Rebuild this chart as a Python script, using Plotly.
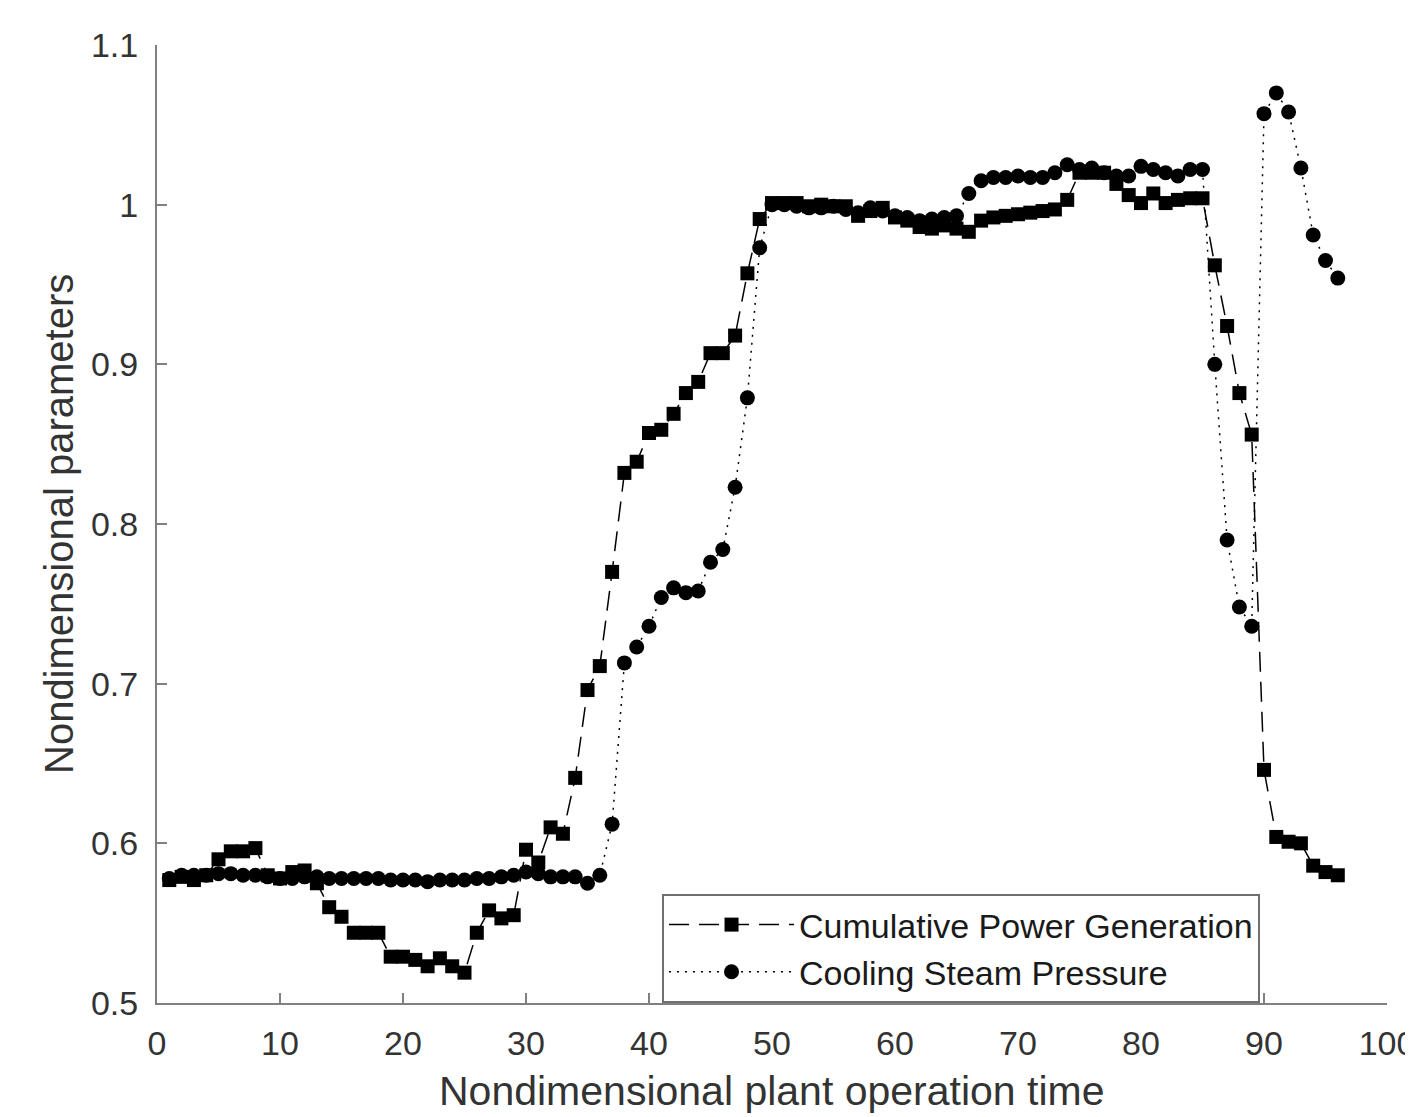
import plotly.graph_objects as go

time = list(range(1, 97))

power = [0.577, 0.579, 0.577, 0.580, 0.590, 0.595, 0.595, 0.597, 0.580, 0.578,
         0.582, 0.583, 0.575, 0.560, 0.554, 0.544, 0.544, 0.544, 0.529, 0.529,
         0.527, 0.523, 0.528, 0.523, 0.519, 0.544, 0.558, 0.553, 0.555, 0.596,
         0.588, 0.610, 0.606, 0.641, 0.696, 0.711, 0.770, 0.832, 0.839, 0.857,
         0.859, 0.869, 0.882, 0.889, 0.907, 0.907, 0.918, 0.957, 0.991, 1.001,
         1.001, 1.001, 0.999, 1.000, 0.999, 0.999, 0.993, 0.996, 0.998, 0.992,
         0.990, 0.986, 0.985, 0.987, 0.985, 0.983, 0.990, 0.992, 0.993, 0.994,
         0.995, 0.996, 0.997, 1.003, 1.020, 1.020, 1.020, 1.013, 1.006, 1.001,
         1.007, 1.001, 1.003, 1.004, 1.004, 0.962, 0.924, 0.882, 0.856, 0.646,
         0.604, 0.601, 0.600, 0.586, 0.582, 0.580]

pressure = [0.578, 0.580, 0.580, 0.580, 0.581, 0.581, 0.580, 0.580, 0.579, 0.578,
            0.578, 0.579, 0.579, 0.578, 0.578, 0.578, 0.578, 0.578, 0.577, 0.577,
            0.577, 0.576, 0.577, 0.577, 0.577, 0.578, 0.578, 0.579, 0.580, 0.582,
            0.581, 0.579, 0.579, 0.579, 0.575, 0.580, 0.612, 0.713, 0.723, 0.736,
            0.754, 0.760, 0.757, 0.758, 0.776, 0.784, 0.823, 0.879, 0.973, 1.000,
            1.000, 0.999, 0.998, 0.998, 0.999, 0.997, 0.995, 0.998, 0.996, 0.993,
            0.992, 0.990, 0.991, 0.992, 0.993, 1.007, 1.015, 1.017, 1.017, 1.018,
            1.017, 1.017, 1.020, 1.025, 1.022, 1.023, 1.020, 1.018, 1.018, 1.024,
            1.022, 1.020, 1.018, 1.022, 1.022, 0.900, 0.790, 0.748, 0.736, 1.057,
            1.070, 1.058, 1.023, 0.981, 0.965, 0.954]

xticks = [0, 10, 20, 30, 40, 50, 60, 70, 80, 90, 100]
yticks = [0.5, 0.6, 0.7, 0.8, 0.9, 1.0, 1.1]
ytick_text = ["0.5", "0.6", "0.7", "0.8", "0.9", "1", "1.1"]

x_title = "Nondimensional plant operation time"
y_title = "Nondimensional parameters"

font_family = "Liberation Sans, Arial, sans-serif"
text_color = "#333333"
axis_color = "#808080"

fig = go.Figure()
fig.add_trace(go.Scatter(
    x=time, y=power, mode="lines+markers",
    name="Cumulative Power Generation",
    line=dict(color="black", width=1.5, dash="20px,10px"),
    marker=dict(symbol="square", size=14, color="black"),
))
fig.add_trace(go.Scatter(
    x=time, y=pressure, mode="lines+markers",
    name="Cooling Steam Pressure",
    line=dict(color="black", width=1.5, dash="2px,6px"),
    marker=dict(symbol="circle", size=15, color="black"),
))

axis_common = dict(
    showgrid=False, zeroline=False, showline=True, linecolor=axis_color,
    linewidth=2, ticks="inside", ticklen=10, tickwidth=2, tickcolor=axis_color,
    tickfont=dict(size=34, color=text_color, family=font_family),
    automargin=False, mirror=False, ticklabeloverflow="allow",
)

# page body has an 8px default margin, so the figure is offset by 8px
fig.update_layout(
    width=1405, height=1109,
    margin=dict(l=149, r=26, t=37, b=114, autoexpand=False),
    plot_bgcolor="white", paper_bgcolor="white",
    font=dict(family=font_family, size=34, color=text_color),
    showlegend=True,
    legend=dict(
        x=0.4106, y=0.0, xanchor="left", yanchor="bottom",
        bgcolor="white", bordercolor="#707070", borderwidth=2,
        font=dict(size=34, color="#1a1a1a", family=font_family),
        tracegroupgap=0, itemwidth=125,
    ),
    xaxis=dict(range=[0, 100], tickvals=xticks,
               ticktext=[str(v) for v in xticks],
               ticklabelstandoff=9, **axis_common),
    yaxis=dict(range=[0.5, 1.1], tickvals=yticks, ticktext=ytick_text,
               ticklabelstandoff=10, **axis_common),
    annotations=[
        dict(text=x_title, xref="paper", yref="paper", x=0.5, y=0,
             xanchor="center", yanchor="middle", yshift=-88, showarrow=False,
             font=dict(size=41, color=text_color, family=font_family)),
        dict(text=y_title, xref="paper", yref="paper", x=0, y=0.5,
             xanchor="center", yanchor="middle", xshift=-98, textangle=-90,
             showarrow=False,
             font=dict(size=40, color=text_color, family=font_family)),
    ],
)

fig.write_html("out.html")
